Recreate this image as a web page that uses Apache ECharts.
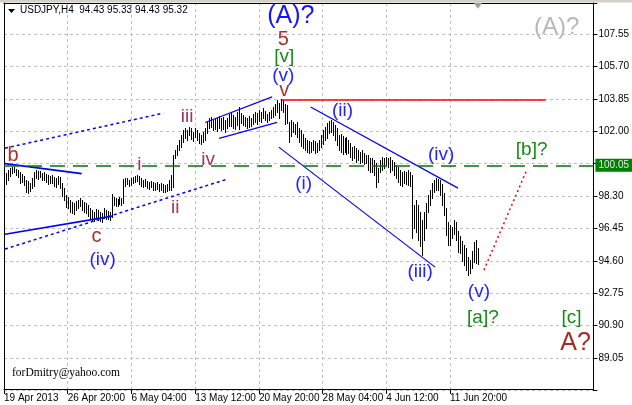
<!DOCTYPE html>
<html><head><meta charset="utf-8">
<script src="https://cdn.jsdelivr.net/npm/echarts@6/dist/echarts.min.js"></script>
<style>html,body{margin:0;padding:0;background:#fff}#c{width:632px;height:405px}</style>
</head><body><div id="c"></div>
<script>
// ---- data (H4 bars, USDJPY) ----
const highs = [99.66,99.61,99.78,99.89,99.95,99.95,99.84,99.78,99.66,99.55,99.44,99.21,99.15,99.04,99.32,99.66,99.78,99.72,99.72,99.61,
99.66,99.55,99.49,99.44,99.49,99.38,99.32,99.44,99.38,99.04,98.75,98.35,98.24,98.07,97.95,97.89,98.01,98.07,98.18,98.07,
97.95,97.89,97.78,97.61,97.49,97.38,97.55,97.49,97.38,97.32,97.61,97.49,97.44,97.38,98.41,98.24,98.18,98.12,98.24,98.18,
99.26,99.32,99.32,99.21,99.32,99.38,99.44,99.49,99.44,99.32,99.21,99.26,99.15,99.09,99.15,99.09,99.04,99.09,98.98,99.04,
98.98,98.92,98.98,99.21,99.49,100.64,100.92,101.21,101.49,101.78,102.06,102.18,102.06,102.23,102.18,101.95,102.18,102.06,101.89,101.78,
101.95,102.18,102.52,102.75,102.81,102.63,102.69,102.75,102.86,102.75,102.81,102.63,102.75,102.98,103.09,102.92,102.81,103.09,103.38,103.03,
102.92,102.81,102.75,102.86,102.75,102.98,103.09,103.03,103.20,103.09,103.32,103.15,102.98,103.09,103.20,103.38,103.55,103.78,103.60,103.83,
103.78,103.55,103.49,102.52,102.63,102.52,102.41,102.52,102.18,102.06,101.83,101.61,101.49,101.43,101.38,101.49,101.43,101.32,101.49,101.78,
102.06,102.23,102.46,102.58,102.63,102.52,102.35,102.18,101.78,101.83,101.72,101.61,101.66,101.49,101.32,101.09,101.15,101.03,100.92,100.81,
100.92,100.75,100.64,100.64,100.46,100.46,100.35,100.18,99.89,100.35,100.52,100.46,100.52,100.46,100.52,100.35,100.24,100.06,99.95,99.78,
99.66,99.72,99.66,99.78,99.66,99.49,97.78,98.07,97.78,97.38,96.92,97.38,97.89,98.35,98.64,99.04,99.21,99.32,99.26,99.21,
98.98,98.47,97.61,96.81,96.64,96.52,96.92,96.81,96.29,96.01,95.72,95.50,95.32,94.81,94.64,95.15,95.67,95.78,95.33];
const lows = [99.09,98.98,99.21,99.44,99.61,99.66,99.49,99.38,99.04,99.09,98.92,98.52,98.47,98.58,98.75,98.86,99.32,99.26,99.38,99.21,
99.21,99.09,98.98,99.04,99.04,98.86,98.81,98.98,98.75,98.29,98.07,97.67,97.61,97.38,97.32,97.27,97.49,97.61,97.72,97.49,
97.38,97.32,97.15,97.04,96.92,96.87,97.04,96.92,96.87,96.81,97.04,96.98,96.98,96.92,97.09,97.78,97.72,97.72,97.84,97.78,
97.89,98.86,98.98,98.86,98.92,99.04,99.09,99.15,98.98,98.86,98.81,98.86,98.75,98.69,98.81,98.64,98.64,98.69,98.58,98.64,
98.52,98.52,98.58,98.64,98.64,98.81,100.46,100.64,100.92,101.09,101.38,101.61,101.49,101.78,101.55,101.43,101.66,101.49,101.32,101.26,
101.38,101.49,101.89,102.18,102.23,102.06,102.12,102.01,102.18,102.06,102.12,101.95,102.18,102.29,102.29,102.18,102.12,102.35,102.12,102.46,
102.35,102.29,102.18,102.23,102.29,102.41,102.52,102.41,102.58,102.52,102.75,102.63,102.52,102.63,102.75,102.81,102.92,103.09,102.75,103.20,
103.09,102.41,102.46,101.38,101.72,101.95,101.83,101.66,101.38,101.15,101.03,100.92,100.81,100.75,100.81,100.92,100.75,100.81,100.92,101.09,
101.26,101.49,101.61,101.89,101.95,101.78,101.49,101.21,100.92,100.81,100.69,100.81,100.69,100.75,100.52,100.35,100.46,100.24,100.35,100.18,
100.24,100.12,100.18,99.78,99.66,99.66,99.49,98.81,99.09,99.66,99.78,99.89,100.06,99.95,99.66,99.78,99.49,99.32,99.09,98.92,
98.86,99.04,98.98,98.92,98.86,95.89,96.47,96.24,95.78,95.44,94.93,95.78,96.47,97.38,97.78,98.18,98.52,98.64,98.64,98.35,
97.78,97.21,96.07,95.50,95.50,95.89,96.12,95.78,95.10,95.04,94.58,94.35,94.07,93.78,93.90,94.18,94.53,94.47,94.43];

const timeLabels = ['19 Apr 2013','26 Apr 20:00','6 May 04:00','13 May 12:00','20 May 20:00','28 May 04:00','4 Jun 12:00','11 Jun 20:00'];
const timeLabelBars = [0,32,64,96,128,160,192,224];
const priceMin = 87.20, priceMax = 109.32, priceStep = 1.85;
const currentPrice = 100.05;
const resistanceLevel = 103.80;

// wave labels: text, bar index, price
const waveText  = ['(A)?','5','[v]','(v)','v','(A)?','b','c','(iv)','i','ii','iii','iv','(i)','(ii)','(iii)','(iv)','(v)','[a]?','[b]?','[c]','A?'];
const waveBar   = [144,140.25,140.75,140.25,140.75,277.5,4.5,46.5,49.5,68,86,92,102.5,150.5,170,209,219.5,238.5,240.5,265,285,287];
const wavePrice = [108.57,107.26,106.26,105.17,104.35,107.94,100.61,96.01,94.67,100.06,97.64,102.81,100.35,98.98,103.15,93.95,100.66,92.81,91.33,100.92,91.33,89.90];
const waveKind  = ['bigBlue','brown','green','blue','brown','bigGrey','brown','brown','blue','purple','purple','purple','purple','blue','blue','blue','blue','blue','green','green','green','bigBrown'];

// trend lines: bar1, price1, bar2, price2, kind
const lineBar1   = [0.5, 0.5, 0.5, 0.5, 101, 108, 154, 138, 241];
const linePrice1 = [100.15, 96.12, 95.27, 101.03, 102.50, 101.59, 103.38, 101.09, 94.07];
const lineBar2   = [39, 54.5, 112, 80, 134.65, 137.15, 228, 216.5, 262.5];
const linePrice2 = [99.58, 97.15, 99.26, 103.03, 103.96, 102.50, 98.75, 94.24, 99.78];
const lineKind   = ['blueThick','blueThick','blueDash','blueDash','blue','blue','blue','blue','redDot'];
const resistFrom = 139.5, resistTo = 272;

// ---- styles ----
const FONT = '"Liberation Sans", Arial, sans-serif';
const labelStyles = {
  bigBlue:  {color:'#1414ff', fontSize:25},
  bigGrey:  {color:'#b8b8b8', fontSize:24},
  bigBrown: {color:'#a52a2a', fontSize:25},
  brown:    {color:'#ae3028', fontSize:20},
  purple:   {color:'#a3345e', fontSize:19},
  blue:     {color:'#2424ff', fontSize:19},
  green:    {color:'#148c14', fontSize:19}
};
const lineStyles = {
  blueThick: {color:'#0000ff', width:1.6, type:'solid'},
  blue:      {color:'#0000ff', width:1.2, type:'solid'},
  blueDash:  {color:'#0000ff', width:1.5, type:[3,3]},
  redDot:    {color:'#ff0000', width:1.5, type:[2,3]}
};

const barData = highs.map((h,i)=>[i,h,lows[i]]);

const markLines = lineBar1.map((b,i)=>[
  {coord:[b, linePrice1[i]], lineStyle: lineStyles[lineKind[i]]},
  {coord:[lineBar2[i], linePrice2[i]]}
]);
markLines.push([{coord:[resistFrom, resistanceLevel], lineStyle:{color:'#ff0000', width:1.5, type:'solid'}},{coord:[resistTo, resistanceLevel]}]);
markLines.push({yAxis: currentPrice, lineStyle:{color:'#007a00', width:1.5, type:[15,8]},
  label:{show:true, position:'end', formatter: currentPrice.toFixed(2), color:'#e8e8e8', backgroundColor:'#008000',
         fontFamily:FONT, fontSize:10, padding:[2,3,1,3], distance:2}});

const markPoints = waveText.map((t,i)=>({
  coord:[waveBar[i], wavePrice[i]], symbol:'circle', symbolSize:1, itemStyle:{color:'rgba(0,0,0,0)'},
  label:{show:true, position:'inside', formatter:t, fontFamily:FONT, color:labelStyles[waveKind[i]].color, fontSize:labelStyles[waveKind[i]].fontSize}
}));
markPoints.push({coord:[238, 109.17], symbol:'triangle', symbolRotate:180, symbolSize:[9,6], itemStyle:{color:'#a0a0a0'}, label:{show:false}});

const chart = echarts.init(document.getElementById('c'), null, {renderer:'canvas'});
chart.setOption({
  animation:false,
  backgroundColor:'#ffffff',
  grid:{left:4, right:36, top:3, bottom:14.6, containLabel:false},
  xAxis:[{
    type:'value', min:0, max:296, interval:16, position:'bottom', offset:-1.5,
    axisLine:{show:true, onZero:false, lineStyle:{color:'#000', width:1}},
    axisTick:{show:true, customValues:timeLabelBars, length:5, lineStyle:{color:'#000'}},
    axisLabel:{show:true, customValues:timeLabelBars, align:'left', margin:4, color:'#000', fontFamily:FONT, fontSize:10,
      formatter:(v)=>{const k=timeLabelBars.indexOf(Math.round(v)); return k>=0?timeLabels[k]:'';}},
    splitLine:{show:true, lineStyle:{color:'#c0c0c0', type:[3,3], width:1}}
  },{
    type:'value', min:0, max:296, position:'top',
    axisLine:{show:true, onZero:false, lineStyle:{color:'#000'}}, axisTick:{show:false}, axisLabel:{show:false}, splitLine:{show:false}
  }],
  yAxis:[{
    type:'value', min:priceMin, max:priceMax, interval:priceStep, position:'right',
    axisLine:{show:true, onZero:false, lineStyle:{color:'#000'}},
    axisTick:{show:true, length:4, lineStyle:{color:'#000'}},
    axisLabel:{show:true, margin:5, color:'#000', fontFamily:FONT, fontSize:10,
      formatter:(v)=>{ if(v<88||v>108.5) return ''; const s=v.toFixed(2); return s==='100.15'?'':s; }},
    splitLine:{show:true, lineStyle:{color:'#c0c0c0', type:[3,3], width:1}}
  },{
    type:'value', min:priceMin, max:priceMax, position:'left',
    axisLine:{show:true, onZero:false, lineStyle:{color:'#000'}}, axisTick:{show:false}, axisLabel:{show:false}, splitLine:{show:false}
  }],
  series:[{
    type:'custom', xAxisIndex:0, yAxisIndex:0, data:barData, encode:{x:0, y:[1,2]}, clip:false,
    renderItem:function(params, api){
      const i=api.value(0), h=api.value(1), l=api.value(2);
      const a=api.coord([i,h]), b=api.coord([i,l]);
      const px=Math.round(a[0])+0.5;
      return {type:'line', shape:{x1:px, y1:Math.round(a[1]), x2:px, y2:Math.round(b[1])+1}, style:{stroke:'#000', lineWidth:1}};
    },
    markLine:{silent:true, symbol:['none','none'], label:{show:false}, data:markLines, animation:false},
    markPoint:{silent:true, data:markPoints, animation:false}
  }],
  graphic:[
    {type:'rect', shape:{x:0,y:0,width:632,height:2.5}, style:{fill:'#d4d0c8'}, silent:true},
    {type:'polygon', shape:{points:[[8,9],[15,9],[11.5,13]]}, style:{fill:'#000'}, silent:true},
    {type:'text', x:20, y:10, style:{text:'USDJPY,H4  94.43 95.33 94.43 95.32', font:'10px "Liberation Sans", Arial, sans-serif', fill:'#000', textVerticalAlign:'middle'}, silent:true},
    {type:'text', x:12, y:373, style:{text:'forDmitry@yahoo.com', font:'11.5px "Liberation Serif", "Times New Roman", serif', fill:'#000', textVerticalAlign:'middle'}, silent:true}
  ]
});
</script></body></html>
